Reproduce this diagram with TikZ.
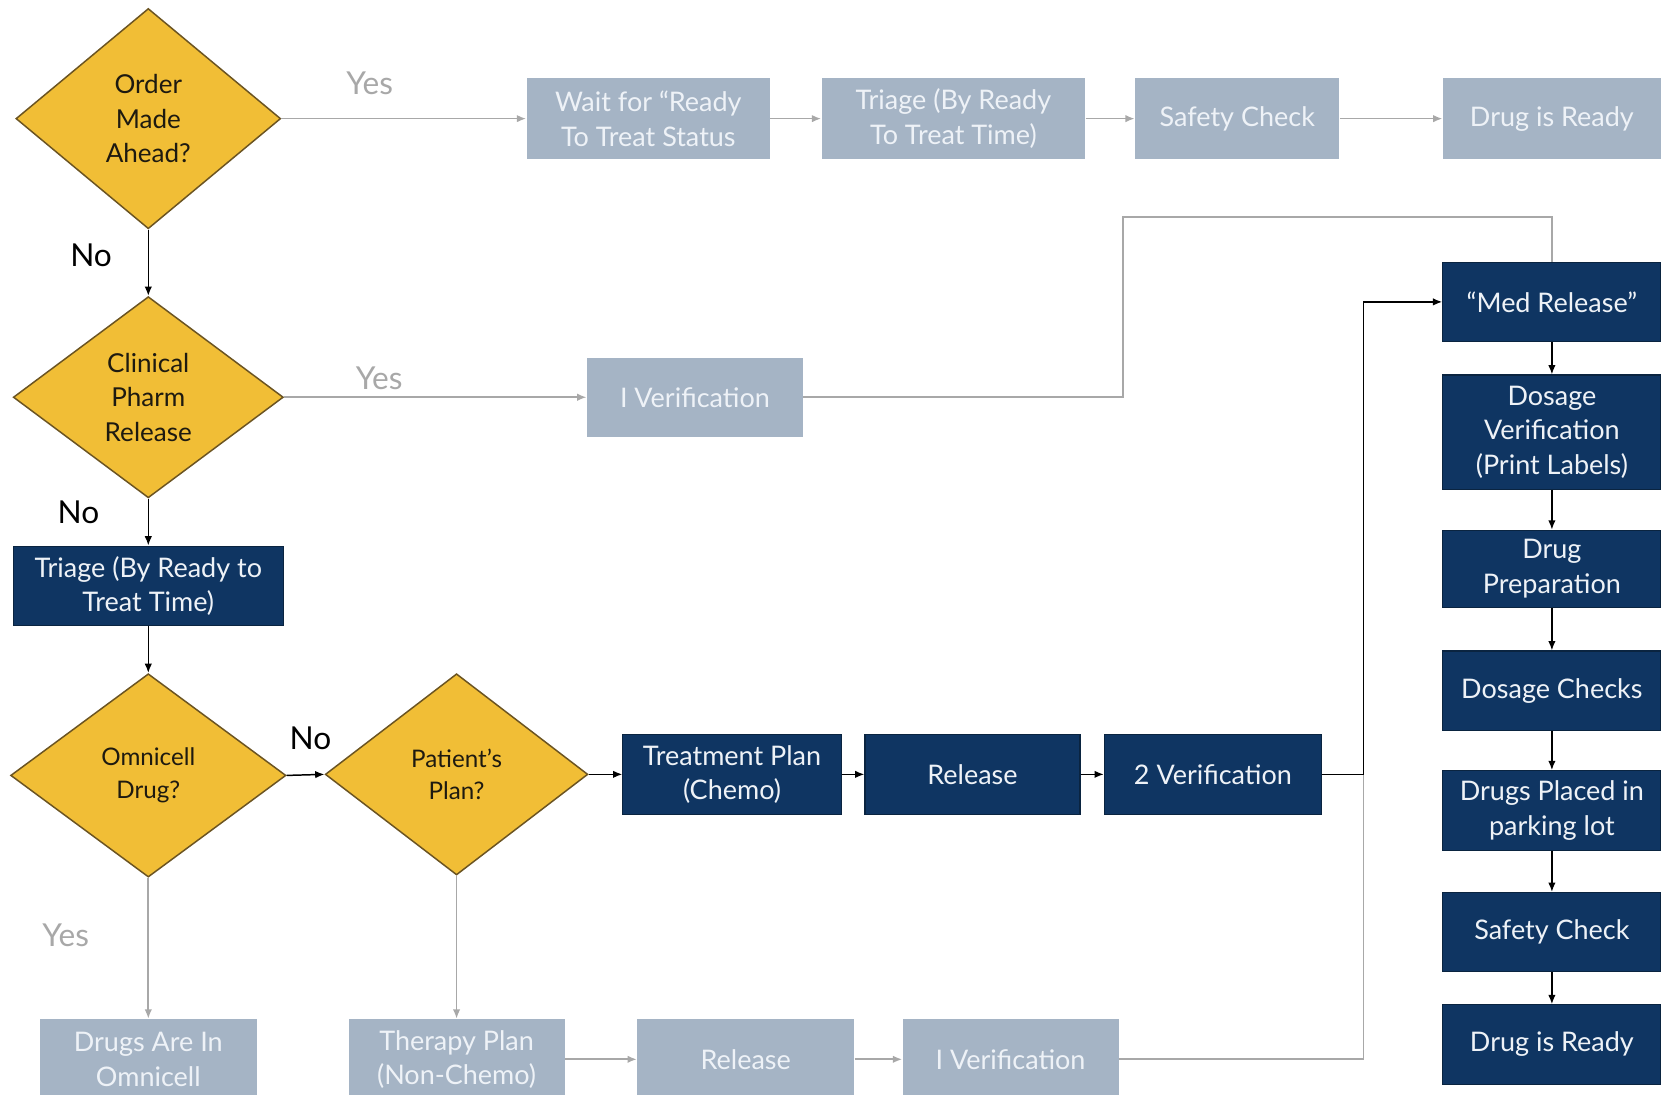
\documentclass[tikz,border=0pt]{standalone}
\usepackage{fontspec}
\setmainfont{Lato}
\usetikzlibrary{shapes.geometric,arrows.meta}
\definecolor{navy}{HTML}{0F3562}
\definecolor{navyborder}{HTML}{0A2440}
\definecolor{grayfill}{HTML}{A5B4C5}
\definecolor{grayline}{HTML}{A8A8A8}
\definecolor{yellowfill}{HTML}{F1BE36}
\definecolor{yellowborder}{HTML}{6B5422}
\definecolor{darktext}{HTML}{1E1A10}
\definecolor{boxtext}{HTML}{EEF2F7}
\newcommand\boxfont{\fontsize{14.5}{18.5}\selectfont}
\newcommand\diafont{\fontsize{14}{18.5}\selectfont}
\newcommand\diafontsm{\fontsize{13}{17.5}\selectfont}
\newcommand\lblfont{\fontsize{17}{20}\selectfont}
\begin{document}
\begin{tikzpicture}[x=0.02cm,y=-0.02cm,
  nbox/.style={rectangle, fill=navy, draw=navyborder, line width=0.6pt, text=boxtext, align=center, font=\boxfont, inner sep=0pt, minimum width=4.12cm, minimum height=1.5cm},
  gbox/.style={rectangle, fill=grayfill, text=boxtext, align=center, font=\boxfont, inner sep=0pt, minimum height=1.5cm},
  dia/.style={diamond, fill=yellowfill, draw=yellowborder, line width=0.8pt, inner sep=0pt},
  dtext/.style={align=center, text=darktext, inner sep=0pt},
  gline/.style={draw=grayline, line width=0.9pt},
  garrow/.style={gline, -{Latex[length=5pt,width=4pt]}},
  barrow/.style={draw=black, line width=0.8pt, -{Latex[length=5pt,width=4pt]}},
  bline/.style={draw=black, line width=0.8pt},
  yeslbl/.style={text=grayline, font=\lblfont, inner sep=0pt},
  nolbl/.style={text=black, font=\lblfont, inner sep=0pt}
]
\useasboundingbox (0,0) rectangle (1568,1033);

% diamonds
\node[dia, minimum width=5cm, minimum height=4.16cm] (d1) at (140,112) {};
\node[dtext, font=\diafont] (t1) at (d1) {Order\\Made\\Ahead?};
\node[dia, minimum width=5.1cm, minimum height=3.8cm] (d2) at (140,375) {};
\node[dtext, font=\diafont] (t2) at (d2) {Clinical\\Pharm\\Release};
\node[dia, minimum width=5.2cm, minimum height=3.84cm] (d3) at (140,732) {};
\node[dtext, font=\diafontsm] (t3) at (d3) {Omnicell\\Drug?};
\node[dia, minimum width=4.96cm, minimum height=3.8cm] (d4) at (431,731) {};
\node[dtext, font=\diafontsm] (t4) at (d4) {Patient’s\\Plan?};

% top gray row
\node[gbox, minimum width=4.6cm, minimum height=1.52cm] (g1) at (612,112) {Wait for “Ready\\To Treat Status};
\node[gbox, minimum width=4.98cm, minimum height=1.52cm] (g2) at (900,112) {Triage (By Ready\\To Treat Time)};
\node[gbox, minimum width=3.86cm, minimum height=1.52cm] (g3) at (1168,112) {Safety Check};
\node[gbox, minimum width=4.12cm, minimum height=1.52cm] (g4) at (1465,112) {Drug is Ready};

\node[gbox, minimum width=4.08cm] (g5) at (656,375) {I Verification};

% navy boxes
\node[nbox, minimum width=5.1cm] (b1) at (140,553) {Triage (By Ready to\\Treat Time)};
\node[nbox, minimum width=4.12cm] (b2) at (691,731) {Treatment Plan\\(Chemo)};
\node[nbox, minimum width=4.06cm] (b3) at (918,731) {Release};
\node[nbox, minimum width=4.1cm] (b4) at (1145,731) {2 Verification};

% bottom gray row
\node[gbox, minimum width=4.1cm, minimum height=1.52cm] (g6) at (140,1000) {Drugs Are In\\Omnicell};
\node[gbox, minimum width=4.08cm, minimum height=1.52cm] (g7) at (431,1000) {Therapy Plan\\(Non-Chemo)};
\node[gbox, minimum width=4.1cm, minimum height=1.52cm] (g8) at (704,1000) {Release};
\node[gbox, minimum width=4.08cm, minimum height=1.52cm] (g9) at (954,1000) {I Verification};

% right column
\node[nbox] (r1) at (1465,285) {“Med Release”};
\node[nbox, minimum height=2.16cm] (r2) at (1465,408) {Dosage\\Verification\\(Print Labels)};
\node[nbox, minimum height=1.46cm] (r3) at (1465,537) {Drug\\Preparation};
\node[nbox] (r4) at (1465,652) {Dosage Checks};
\node[nbox] (r5) at (1465,765) {Drugs Placed in\\parking lot};
\node[nbox] (r6) at (1465,880) {Safety Check};
\node[nbox] (r7) at (1465,986) {Drug is Ready};

% labels
\node[yeslbl] (y1) at (349,79) {Yes};
\node[yeslbl] (y2) at (358,357) {Yes};
\node[yeslbl] (y3) at (62,883) {Yes};
\node[nolbl] (n1) at (86,241) {No};
\node[nolbl] (n2) at (74,484) {No};
\node[nolbl] (n3) at (293,697) {No};

% helper coordinates
\coordinate (k1) at (1060,205);
\coordinate (j1) at (1287,731);

% connectors
\draw[garrow] (d1.east) -- (g1.west);
\draw[garrow] (g1.east) -- (g2.west);
\draw[garrow] (g2.east) -- (g3.west);
\draw[garrow] (g3.east) -- (g4.west);
\draw[barrow] (d1.south) -- (d2.north);
\draw[garrow] (d2.east) -- (g5.west);
\draw[gline] (g5.east) -| (k1) -| (r1.north);
\draw[barrow] (d2.south) -- (b1.north);
\draw[barrow] (b1.south) -- (d3.north);
\draw[barrow] (d3.east) -- (d4.west);
\draw[barrow] (d4.east) -- (b2.west);
\draw[barrow] (b2.east) -- (b3.west);
\draw[barrow] (b3.east) -- (b4.west);
\draw[gline] (g9.east) -| (j1);
\draw[barrow] (b4.east) -- (j1) |- (r1.west);
\draw[garrow] (d3.south) -- (g6.north);
\draw[garrow] (d4.south) -- (g7.north);
\draw[garrow] (g7.east) -- (g8.west);
\draw[garrow] (g8.east) -- (g9.west);
\draw[barrow] (r1.south) -- (r2.north);
\draw[barrow] (r2.south) -- (r3.north);
\draw[barrow] (r3.south) -- (r4.north);
\draw[barrow] (r4.south) -- (r5.north);
\draw[barrow] (r5.south) -- (r6.north);
\draw[barrow] (r6.south) -- (r7.north);
\end{tikzpicture}
\end{document}
